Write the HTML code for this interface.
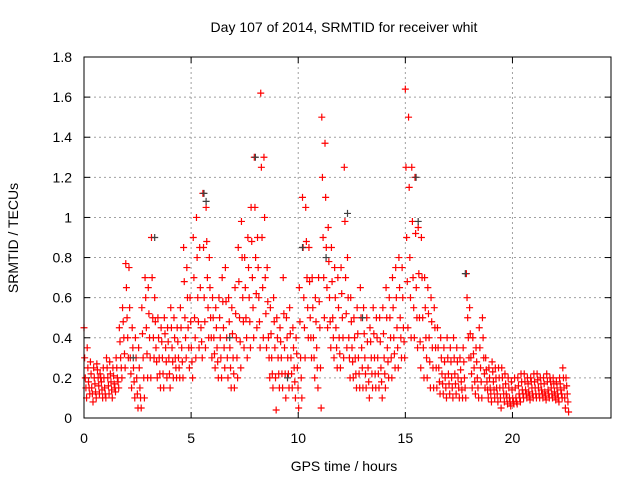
<!DOCTYPE html>
<html><head><meta charset="utf-8"><style>
body{margin:0;background:#fff;width:640px;height:480px;overflow:hidden;font-family:"Liberation Sans",sans-serif}
svg{display:block}
</style></head><body>
<svg id="chart" width="640" height="480" xmlns="http://www.w3.org/2000/svg"></svg>
<script>
const xTicks=[0,5,10,15,20];
const yTicks=[0,0.2,0.4,0.6,0.8,1,1.2,1.4,1.6,1.8];
const yTickLabels=["0","0.2","0.4","0.6","0.8","1","1.2","1.4","1.6","1.8"];
const t0=0, dt=0.15;
const hiVals=[.45,.35,.28,.25,.27,.22,.25,.3,.28,.25,
.3,.45,.55,.77,.75,.45,.4,.35,.55,.7,
.65,.9,.6,.5,.45,.5,.45,.55,.5,.45,
.55,.85,.75,.6,.9,1.0,.85,1.12,1.05,.8,
.6,.55,.6,.7,.75,.6,.55,.65,.85,.98,
.8,.9,1.05,1.3,.9,1.62,1.3,.75,.55,.6,
.5,.45,.7,.5,.55,.45,.4,.65,1.1,1.05,
.85,.7,.6,.7,1.5,1.37,.95,.85,.75,.7,
.75,1.25,.8,.6,.5,.55,.65,.55,.5,.45,
.55,.5,.5,.55,.65,.6,.7,.75,.8,.75,
1.64,1.5,1.25,1.2,.95,.9,.7,.65,.6,.55,
.45,.4,.35,.4,.35,.4,.35,.3,.35,.72,
.55,.4,.35,.45,.5,.3,.25,.28,.25,.25,
.25,.22,.2,.18,.2,.2,.22,.22,.2,.2,
.22,.22,.2,.2,.22,.2,.2,.18,.2,.25,.2];
const upMidVals=[.3,.25,.22,.2,.24,.2,.2,.25,.22,.21,
.25,.38,.48,.65,.55,.35,.3,.25,.42,.6,
.52,.7,.48,.4,.38,.42,.38,.45,.4,.38,
.45,.68,.6,.48,.7,.8,.65,.85,.88,.65,
.5,.45,.5,.58,.58,.48,.42,.52,.68,.8,
.65,.75,.88,1.05,.75,1.25,1.0,.58,.42,.48,
.4,.38,.52,.4,.42,.35,.32,.48,.85,.88,
.68,.55,.48,.58,1.2,1.1,.78,.68,.6,.55,
.62,.98,.6,.48,.4,.42,.5,.42,.38,.38,
.42,.4,.38,.42,.5,.5,.55,.6,.65,.6,
1.25,1.15,.98,.92,.72,.7,.55,.52,.48,.45,
.35,.3,.28,.3,.28,.3,.28,.24,.28,.6,
.42,.32,.28,.35,.4,.24,.2,.23,.2,.2,
.2,.17,.15,.14,.15,.16,.18,.18,.17,.18,
.18,.19,.17,.17,.18,.18,.17,.15,.17,.2,.16];
const midVals=[.2,.18,.15,.17,.2,.18,.15,.2,.18,.17,
.2,.3,.4,.5,.3,.25,.2,.15,.3,.45,
.4,.5,.35,.3,.3,.35,.3,.35,.3,.3,
.35,.5,.45,.35,.5,.6,.45,.6,.7,.5,
.4,.35,.4,.45,.4,.35,.3,.4,.5,.6,
.5,.6,.7,.8,.6,.9,.7,.4,.3,.35,
.3,.3,.35,.3,.3,.25,.25,.3,.6,.7,
.5,.4,.35,.45,.9,.85,.6,.5,.45,.4,
.5,.7,.4,.35,.3,.3,.35,.3,.25,.3,
.3,.3,.25,.3,.35,.4,.4,.45,.5,.45,
.9,.8,.7,.65,.5,.5,.4,.4,.35,.35,
.25,.22,.2,.22,.2,.22,.2,.18,.2,.5,
.3,.25,.2,.25,.3,.18,.15,.18,.15,.15,
.15,.12,.1,.1,.1,.12,.14,.14,.13,.15,
.15,.15,.14,.13,.14,.15,.13,.12,.14,.15,.12];
const lowMidVals=[.15,.15,.12,.13,.16,.14,.12,.16,.14,.15,
.18,.25,.32,.4,.22,.18,.12,.1,.2,.32,
.3,.4,.28,.22,.22,.28,.22,.28,.25,.25,
.28,.4,.35,.28,.4,.48,.38,.48,.55,.4,
.32,.28,.3,.35,.3,.25,.22,.3,.38,.48,
.4,.48,.55,.62,.48,.65,.52,.3,.22,.2,
.22,.22,.22,.22,.22,.18,.15,.2,.45,.55,
.4,.3,.25,.25,.7,.65,.48,.4,.35,.32,
.4,.52,.3,.28,.22,.22,.25,.22,.18,.22,
.22,.22,.18,.22,.28,.3,.32,.35,.4,.38,
.68,.6,.55,.5,.38,.35,.3,.28,.25,.25,
.18,.17,.15,.17,.15,.17,.15,.14,.15,.4,
.22,.18,.15,.18,.22,.14,.12,.14,.12,.1,
.12,.1,.08,.08,.08,.1,.12,.12,.11,.12,
.12,.12,.12,.11,.12,.12,.11,.1,.12,.1,.08];
const loVals=[.1,.12,.08,.1,.12,.1,.1,.12,.1,.13,
.15,.2,.25,.3,.15,.1,.05,.05,.1,.2,
.2,.3,.2,.15,.15,.2,.15,.2,.2,.2,
.2,.3,.25,.2,.3,.35,.3,.35,.4,.3,
.25,.2,.2,.25,.2,.15,.15,.2,.25,.35,
.3,.35,.4,.45,.35,.4,.35,.2,.15,.04,
.15,.15,.1,.15,.15,.1,.05,.1,.3,.4,
.3,.2,.15,.05,.5,.45,.35,.3,.25,.25,
.3,.35,.2,.2,.15,.15,.15,.15,.1,.15,
.15,.15,.1,.15,.2,.2,.25,.25,.3,.3,
.45,.4,.4,.35,.25,.2,.2,.15,.15,.15,
.12,.12,.1,.12,.1,.12,.1,.1,.1,.3,
.15,.12,.1,.1,.15,.1,.08,.1,.08,.05,
.08,.07,.06,.07,.07,.08,.1,.1,.09,.1,
.1,.1,.1,.09,.1,.1,.09,.08,.1,.05,.03];
const grayX=[3.3,5.6,8.0,12.3,15.5,17.8,10.2,2.3,6.8,13,9.5,11.3,15.6,5.7];
const grayY=[.9,1.12,1.3,1.02,1.2,.72,.85,.3,.4,.5,.2,.8,.98,1.08];

const L=84,R=611,T=57,B=418,XMAX=24.6,YMAX=1.8;
const sx=v=>L+v/XMAX*(R-L), sy=v=>B-v/YMAX*(B-T);
const svg=document.getElementById('chart');
const NS='http://www.w3.org/2000/svg';
function mk(tag,attrs,parent){const e=document.createElementNS(NS,tag);for(const k in attrs)e.setAttribute(k,attrs[k]);(parent||svg).appendChild(e);return e;}

const grid=mk('g',{});


yTicks.forEach((v,i)=>{
  if(i>0&&i<yTicks.length-1){mk('line',{x1:L,x2:R,y1:sy(v),y2:sy(v),stroke:'#a0a0a0','stroke-dasharray':'2,3','stroke-width':1},grid);}
  mk('line',{x1:L,x2:L+6,y1:sy(v),y2:sy(v),stroke:'#000'},grid);
  mk('line',{x1:R,x2:R-6,y1:sy(v),y2:sy(v),stroke:'#000'},grid);
  const t=mk('text',{x:L-12,y:sy(v)+5,'text-anchor':'end','font-size':14,fill:'#000'});
  t.textContent=yTickLabels[i];
  
  
});
xTicks.forEach(v=>{
  if(v>0)mk('line',{x1:sx(v),x2:sx(v),y1:T,y2:B,stroke:'#a0a0a0','stroke-dasharray':'2,3'},grid);
  mk('line',{x1:sx(v),x2:sx(v),y1:B,y2:B-6,stroke:'#000'},grid);
  mk('line',{x1:sx(v),x2:sx(v),y1:T,y2:T+6,stroke:'#000'},grid);
  const t=mk('text',{x:sx(v),y:B+25,'text-anchor':'middle','font-size':14,fill:'#000'});
  t.textContent=String(v);
  
  
});

function plus(g,x,y,c){const px=sx(x),py=sy(y);
  mk('path',{d:`M${px-3.5},${py}H${px+3.5}M${px},${py-3.5}V${py+3.5}`,stroke:c,'stroke-width':1.2,fill:'none'},g);}
const red=mk('g',{});


[hiVals,upMidVals,midVals,lowMidVals,loVals].forEach((arr,k)=>arr.forEach((v,i)=>{
  plus(red,t0+i*dt+k*0.03,v,'#ff0000');
}));
const gray=mk('g',{});


grayX.forEach((x,i)=>plus(gray,x,grayY[i],'#404040'));

const frame=mk('rect',{x:L,y:T,width:R-L,height:B-T,fill:'none',stroke:'#000','stroke-width':1});



const title=mk('text',{x:344,y:32,'text-anchor':'middle','font-size':14,fill:'#000'});
title.textContent='Day 107 of 2014, SRMTID for receiver whit';


const xl=mk('text',{x:344,y:471,'text-anchor':'middle','font-size':14,fill:'#000'});
xl.textContent='GPS time / hours';


const yl=mk('text',{x:0,y:0,'text-anchor':'middle','font-size':14,fill:'#000',transform:'translate(18,238) rotate(-90)'});
yl.textContent='SRMTID / TECUs';


</script>
</body></html>
